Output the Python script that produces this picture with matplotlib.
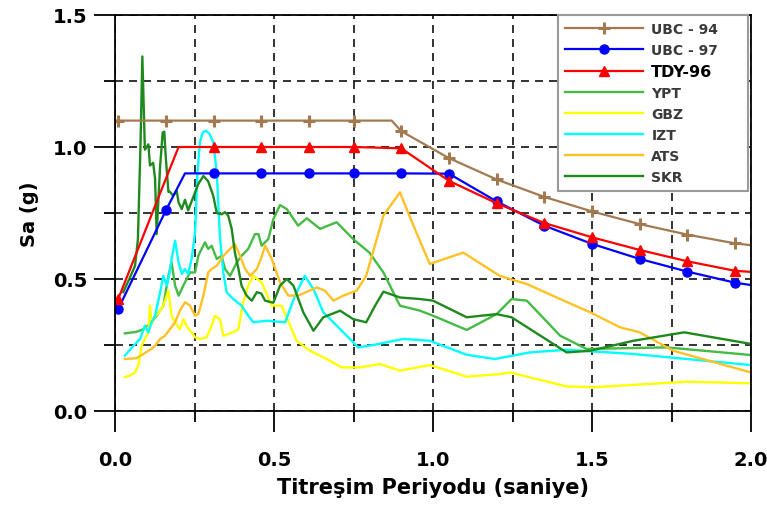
import numpy as np
import matplotlib
matplotlib.use("Agg")
import matplotlib.pyplot as plt
from matplotlib.ticker import MultipleLocator, FormatStrFormatter

# design spectra (periods in s, Sa in g)
ubc94_T = [0.0, 0.01, 0.16, 0.31, 0.46, 0.61, 0.75, 0.87, 0.90, 1.05, 1.20, 1.35, 1.50, 1.65, 1.80, 1.95, 2.0]
ubc94_Sa = [1.10, 1.10, 1.10, 1.10, 1.10, 1.10, 1.10, 1.10, 1.06, 0.958, 0.877, 0.811, 0.756, 0.708, 0.668, 0.635, 0.628]
ubc94_mark = [1, 2, 3, 4, 5, 6, 8, 9, 10, 11, 12, 13, 14, 15]

ubc97_T = [0.01, 0.16, 0.22, 0.31, 0.46, 0.61, 0.75, 0.90, 1.05, 1.20, 1.35, 1.50, 1.65, 1.80, 1.95, 2.0]
ubc97_Sa = [0.386, 0.76, 0.90, 0.90, 0.90, 0.90, 0.90, 0.90, 0.899, 0.794, 0.702, 0.633, 0.576, 0.528, 0.486, 0.477]
ubc97_mark = [0, 1, 3, 4, 5, 6, 7, 8, 9, 10, 11, 12, 13, 14]

tdy96_T = [0.01, 0.16, 0.20, 0.31, 0.46, 0.61, 0.75, 0.90, 1.05, 1.20, 1.35, 1.50, 1.65, 1.80, 1.95, 2.0]
tdy96_Sa = [0.424, 0.88, 1.0, 1.0, 1.0, 1.0, 1.0, 0.995, 0.872, 0.787, 0.712, 0.658, 0.61, 0.567, 0.531, 0.527]
tdy96_mark = [0, 3, 4, 5, 6, 7, 8, 9, 10, 11, 12, 13, 14]

# recorded spectra
ypt_T = [0.031, 0.068, 0.089, 0.11, 0.131, 0.152, 0.168, 0.178, 0.189, 0.20, 0.215, 0.236, 0.252, 0.262,
         0.283, 0.293, 0.304, 0.32, 0.335, 0.346, 0.362, 0.383, 0.398, 0.419, 0.44, 0.451, 0.461, 0.482,
         0.498, 0.519, 0.54, 0.576, 0.603, 0.645, 0.697, 0.749, 0.80, 0.844, 0.896, 0.959, 1.0, 1.106,
         1.20, 1.247, 1.295, 1.40, 1.483, 1.735, 2.0]
ypt_Sa = [0.294, 0.30, 0.31, 0.33, 0.361, 0.399, 0.512, 0.563, 0.475, 0.437, 0.475, 0.525, 0.525, 0.588,
          0.639, 0.614, 0.626, 0.576, 0.588, 0.538, 0.512, 0.563, 0.588, 0.614, 0.67, 0.67, 0.626, 0.651,
          0.727, 0.78, 0.765, 0.702, 0.73, 0.69, 0.715, 0.651, 0.60, 0.525, 0.399, 0.38, 0.361, 0.307,
          0.367, 0.424, 0.418, 0.285, 0.235, 0.241, 0.212]

gbz_T = [0.031, 0.047, 0.063, 0.073, 0.084, 0.094, 0.105, 0.11, 0.115, 0.126, 0.136, 0.152, 0.168, 0.178,
         0.189, 0.204, 0.215, 0.227, 0.241, 0.252, 0.267, 0.288, 0.304, 0.314, 0.33, 0.341, 0.372, 0.388,
         0.403, 0.419, 0.435, 0.461, 0.493, 0.524, 0.571, 0.613, 0.666, 0.713, 0.77, 0.833, 0.896, 0.99,
         1.106, 1.21, 1.242, 1.42, 1.504, 1.80, 2.0]
gbz_Sa = [0.128, 0.134, 0.146, 0.172, 0.247, 0.273, 0.30, 0.40, 0.33, 0.36, 0.37, 0.40, 0.456, 0.36,
          0.336, 0.31, 0.348, 0.317, 0.298, 0.279, 0.273, 0.279, 0.323, 0.361, 0.348, 0.285, 0.298, 0.31,
          0.412, 0.475, 0.512, 0.487, 0.399, 0.399, 0.266, 0.228, 0.197, 0.165, 0.165, 0.178, 0.153, 0.174,
          0.13, 0.14, 0.146, 0.093, 0.09, 0.111, 0.105]

izt_T = [0.031, 0.058, 0.079, 0.094, 0.105, 0.115, 0.126, 0.142, 0.152, 0.163, 0.171, 0.178, 0.189, 0.20,
         0.21, 0.22, 0.23, 0.241, 0.252, 0.259, 0.267, 0.276, 0.286, 0.297, 0.309, 0.32, 0.33, 0.341,
         0.351, 0.372, 0.398, 0.419, 0.435, 0.477, 0.535, 0.566, 0.597, 0.624, 0.655, 0.708, 0.765, 0.812,
         0.907, 0.99, 1.106, 1.195, 1.305, 1.42, 1.63, 2.0]
izt_Sa = [0.21, 0.247, 0.273, 0.323, 0.298, 0.336, 0.361, 0.45, 0.512, 0.475, 0.519, 0.576, 0.645, 0.563,
          0.519, 0.538, 0.519, 0.576, 0.68, 0.90, 1.018, 1.055, 1.062, 1.05, 1.018, 0.904, 0.66, 0.52,
          0.45, 0.424, 0.399, 0.361, 0.336, 0.342, 0.336, 0.437, 0.512, 0.462, 0.374, 0.31, 0.241, 0.25,
          0.273, 0.266, 0.213, 0.197, 0.222, 0.232, 0.216, 0.174]

ats_T = [0.031, 0.068, 0.089, 0.105, 0.115, 0.126, 0.142, 0.157, 0.173, 0.189, 0.204, 0.22, 0.236, 0.252,
         0.262, 0.278, 0.293, 0.304, 0.32, 0.341, 0.362, 0.377, 0.393, 0.409, 0.425, 0.446, 0.46, 0.472,
         0.493, 0.519, 0.545, 0.576, 0.634, 0.66, 0.687, 0.718, 0.76, 0.79, 0.844, 0.896, 0.943, 0.99,
         1.095, 1.21, 1.242, 1.295, 1.40, 1.494, 1.588, 1.65, 1.756, 2.0]
ats_Sa = [0.197, 0.20, 0.216, 0.228, 0.235, 0.247, 0.273, 0.285, 0.31, 0.336, 0.38, 0.412, 0.399, 0.361,
          0.367, 0.437, 0.525, 0.538, 0.55, 0.588, 0.614, 0.632, 0.588, 0.538, 0.512, 0.538, 0.58, 0.626,
          0.576, 0.487, 0.437, 0.437, 0.468, 0.456, 0.418, 0.437, 0.456, 0.512, 0.74, 0.828, 0.689, 0.557,
          0.60, 0.512, 0.50, 0.481, 0.424, 0.374, 0.317, 0.298, 0.228, 0.146]

skr_T = [0.026, 0.045, 0.063, 0.072, 0.08, 0.086, 0.094, 0.105, 0.11, 0.12, 0.126, 0.131, 0.142, 0.15,
         0.155, 0.16, 0.168, 0.173, 0.183, 0.194, 0.20, 0.21, 0.22, 0.23, 0.246, 0.262, 0.278, 0.293,
         0.309, 0.32, 0.335, 0.346, 0.356, 0.367, 0.377, 0.388, 0.398, 0.414, 0.43, 0.446, 0.46, 0.472,
         0.498, 0.519, 0.54, 0.561, 0.592, 0.624, 0.655, 0.708, 0.749, 0.79, 0.818, 0.844, 0.896, 0.96,
         1.0, 1.106, 1.20, 1.247, 1.42, 1.494, 1.63, 1.79, 2.0]
skr_Sa = [0.45, 0.50, 0.55, 0.65, 1.0, 1.343, 0.99, 1.01, 0.93, 0.94, 0.88, 0.67, 0.93, 1.055,
          1.058, 0.955, 0.83, 0.83, 0.815, 0.834, 0.79, 0.765, 0.80, 0.76, 0.81, 0.86, 0.89, 0.87,
          0.815, 0.75, 0.745, 0.753, 0.74, 0.69, 0.60, 0.54, 0.475, 0.437, 0.418, 0.45, 0.445, 0.418,
          0.41, 0.475, 0.50, 0.475, 0.374, 0.304, 0.355, 0.38, 0.348, 0.336, 0.399, 0.452, 0.43, 0.424,
          0.418, 0.355, 0.367, 0.355, 0.222, 0.228, 0.266, 0.298, 0.254]

plt.rcParams['font.family'] = ['DejaVu Sans']
plt.rcParams['font.weight'] = 'bold'

fig = plt.figure(figsize=(7.67, 5.06), dpi=100)
ax = fig.add_axes([115 / 767, 94 / 506, 636 / 767, 396 / 506])

ax.plot(ubc94_T, ubc94_Sa, color='#a37a4f', lw=1.6, marker='+', ms=9, mew=2.2,
        markevery=ubc94_mark, label='UBC - 94', zorder=5)
ax.plot(ubc97_T, ubc97_Sa, color='#0000ff', lw=1.6, marker='o', ms=6.5,
        markevery=ubc97_mark, label='UBC - 97', zorder=5)
ax.plot(tdy96_T, tdy96_Sa, color='#ff0000', lw=1.6, marker='^', ms=6.5,
        markevery=tdy96_mark, label='TDY-96', zorder=5)
ax.plot(ypt_T, ypt_Sa, color='#44bb44', lw=1.7, label='YPT', zorder=4)
ax.plot(gbz_T, gbz_Sa, color='#ffff00', lw=1.7, label='GBZ', zorder=4)
ax.plot(izt_T, izt_Sa, color='#00ffff', lw=1.7, label='IZT', zorder=4)
ax.plot(ats_T, ats_Sa, color='#ffc125', lw=1.7, label='ATS', zorder=4)
ax.plot(skr_T, skr_Sa, color='#1e8a1e', lw=1.7, label='SKR', zorder=4)

ax.set_xlim(0, 2.0)
ax.set_ylim(0, 1.5)
ax.xaxis.set_major_locator(MultipleLocator(0.5))
ax.xaxis.set_minor_locator(MultipleLocator(0.25))
ax.yaxis.set_major_locator(MultipleLocator(0.5))
ax.yaxis.set_minor_locator(MultipleLocator(0.25))
ax.xaxis.set_major_formatter(FormatStrFormatter('%.1f'))
ax.yaxis.set_major_formatter(FormatStrFormatter('%.1f'))

ax.grid(True, which='both', color='#111111', lw=1.2, linestyle=(0, (4.8, 3.6)), zorder=1)
ax.set_axisbelow(True)
for s in ax.spines.values():
    s.set_linewidth(1.3)
    s.set_zorder(6)

ax.tick_params(which='major', direction='out', length=15, width=1.3, labelsize=14)
ax.tick_params(which='minor', direction='out', length=8, width=1.3)
ax.tick_params(axis='x', which='major', pad=13)
ax.tick_params(axis='y', which='major', pad=5)

ax.set_xlabel('Titreşim Periyodu (saniye)', fontsize=15, fontweight='bold', labelpad=6)
ax.set_ylabel('Sa (g)', fontsize=14, fontweight='bold', labelpad=10)

leg = ax.legend(loc='upper left', bbox_to_anchor=(0.697, 0.553, 0.298, 0.447), mode='expand',
                borderaxespad=0, fontsize=10, handlelength=5.6, labelspacing=0.5, handletextpad=0.6,
                borderpad=0.5, fancybox=False, framealpha=1, edgecolor='#9a9a9a')
leg.get_frame().set_linewidth(1.5)
leg.set_zorder(10)
for i, t in enumerate(leg.get_texts()):
    t.set_fontweight('bold')
    if i == 2:
        t.set_fontsize(11.5)
        t.set_color('black')
    else:
        t.set_color('#3a3a3a')

fig.savefig('out.png', dpi=100)
